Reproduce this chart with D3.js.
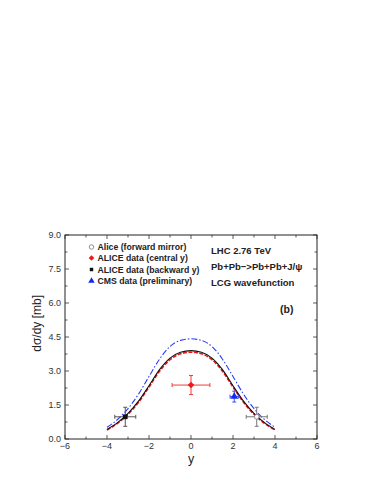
<!DOCTYPE html>
<html>
<head>
<meta charset="utf-8">
<script src="https://cdn.jsdelivr.net/npm/d3@7"></script>
<style>
  body { margin: 0; background: #fff; }
  svg { display: block; font-family: "Liberation Sans", Arial, sans-serif; }
</style>
</head>
<body>
<svg id="chart"></svg>
<script>
// rapidity grid for the model curves
const ys = [-4, -3.5, -3, -2.5, -2, -1.5, -1, -0.5, 0, 0.5, 1, 1.5, 2, 2.5, 3, 3.5, 4];
const lcgSolid = [0.42, 0.72, 1.13, 1.67, 2.35, 3.06, 3.57, 3.83, 3.90, 3.83, 3.57, 3.06, 2.35, 1.67, 1.13, 0.72, 0.42];
const lcgDashed = [0.40, 0.69, 1.09, 1.62, 2.29, 2.99, 3.50, 3.76, 3.83, 3.76, 3.50, 2.99, 2.29, 1.62, 1.09, 0.69, 0.40];
const lcgDashDot = [0.52, 0.86, 1.34, 1.98, 2.76, 3.52, 4.08, 4.35, 4.42, 4.35, 4.08, 3.52, 2.76, 1.98, 1.34, 0.86, 0.52];

// data points: [y, value, xerr, yerr]
const aliceMirror = [[3.13, 0.98, 0.5, 0.42]];
const aliceCentral = [[0, 2.38, 0.9, 0.42]];
const aliceBackward = [[-3.13, 0.98, 0.5, 0.42]];
const cmsData = [[2.06, 1.87, 0.2, 0.24]];

const xTicks = [-6, -4, -2, 0, 2, 4, 6];
const yTicks = [0, 1.5, 3, 4.5, 6, 7.5, 9];

const legendLabels = ["Alice (forward mirror)", "ALICE data (central y)", "ALICE data (backward y)", "CMS data (preliminary)"];
const infoLines = ["LHC 2.76 TeV", "Pb+Pb\u2212>Pb+Pb+J/\u03c8", "LCG wavefunction"];

const width = 383, height = 495;
const m = { left: 65, right: 66, top: 235, bottom: 56 };

const svg = d3.select("#chart").attr("width", width).attr("height", height);

const x = d3.scaleLinear().domain([-6, 6]).range([m.left, width - m.right]);
const y = d3.scaleLinear().domain([0, 9]).range([height - m.bottom, m.top]);

const x0 = x.range()[0], x1 = x.range()[1], y0 = y.range()[0], y1 = y.range()[1];

// ticks (inward, all sides)
const g = svg.append("g").attr("stroke", "#333").attr("stroke-width", 0.8);
d3.range(-6, 6.01, 1).forEach(v => {
  const len = v % 2 === 0 ? 4 : 2.5;
  g.append("line").attr("x1", x(v)).attr("x2", x(v)).attr("y1", y0).attr("y2", y0 - len);
  g.append("line").attr("x1", x(v)).attr("x2", x(v)).attr("y1", y1).attr("y2", y1 + len);
});
d3.range(0, 9.01, 0.75).forEach((v, i) => {
  const len = i % 2 === 0 ? 4 : 2.5;
  g.append("line").attr("y1", y(v)).attr("y2", y(v)).attr("x1", x0).attr("x2", x0 + len);
  g.append("line").attr("y1", y(v)).attr("y2", y(v)).attr("x1", x1).attr("x2", x1 - len);
});

svg.append("rect")
  .attr("x", x0).attr("y", y1).attr("width", x1 - x0).attr("height", y0 - y1)
  .attr("fill", "none").attr("stroke", "#222").attr("stroke-width", 1);

// tick labels
svg.append("g").selectAll("text").data(xTicks).join("text")
  .attr("x", d => x(d)).attr("y", y0 + 10)
  .attr("text-anchor", "middle").attr("font-size", 9).attr("fill", "#333")
  .text(d => d < 0 ? "\u2212" + Math.abs(d) : d);

svg.append("g").selectAll("text").data(yTicks).join("text")
  .attr("x", x0 - 4).attr("y", d => y(d) + 3)
  .attr("text-anchor", "end").attr("font-size", 9).attr("fill", "#333")
  .text(d => d.toFixed(1));

svg.append("text")
  .attr("x", x(0)).attr("y", y0 + 24)
  .attr("text-anchor", "middle").attr("font-size", 12.5).attr("fill", "#222")
  .text("y");

svg.append("text")
  .attr("transform", `translate(${x0 - 24},${y(5.1)}) rotate(-90)`)
  .attr("text-anchor", "middle").attr("font-size", 12).attr("fill", "#222")
  .text("d\u03c3/dy [mb]");

// curves
const line = vals => d3.line()
  .x((d, i) => x(ys[i]))
  .y(d => y(d))
  .curve(d3.curveMonotoneX)(vals);

svg.append("path").attr("d", line(lcgDashDot)).attr("fill", "none")
  .attr("stroke", "#2a3cf0").attr("stroke-width", 1.1).attr("stroke-dasharray", "6,2,1.5,2");
svg.append("path").attr("d", line(lcgDashed)).attr("fill", "none")
  .attr("stroke", "#e8141c").attr("stroke-width", 1.6).attr("stroke-dasharray", "4,1.5");
svg.append("path").attr("d", line(lcgSolid)).attr("fill", "none")
  .attr("stroke", "#111").attr("stroke-width", 1.1);

// error bars
function errorBars(data, color) {
  const eg = svg.append("g").attr("stroke", color).attr("stroke-width", 1);
  data.forEach(([cx, cy, ex, ey]) => {
    eg.append("line").attr("x1", x(cx - ex)).attr("x2", x(cx + ex)).attr("y1", y(cy)).attr("y2", y(cy));
    eg.append("line").attr("x1", x(cx)).attr("x2", x(cx)).attr("y1", y(cy - ey)).attr("y2", y(cy + ey));
    [cx - ex, cx + ex].forEach(v => eg.append("line")
      .attr("x1", x(v)).attr("x2", x(v)).attr("y1", y(cy) - 2).attr("y2", y(cy) + 2));
    [cy - ey, cy + ey].forEach(v => eg.append("line")
      .attr("x1", x(cx) - 2).attr("x2", x(cx) + 2).attr("y1", y(v)).attr("y2", y(v)));
  });
}
errorBars(aliceMirror, "#777");
errorBars(aliceBackward, "#555");
errorBars(aliceCentral, "#f03a3a");
errorBars(cmsData, "#3a50f0");

const sym = (type, size) => d3.symbol().type(type).size(size)();

svg.selectAll(".mirror").data(aliceMirror).join("path")
  .attr("transform", d => `translate(${x(d[0])},${y(d[1])})`)
  .attr("d", sym(d3.symbolCircle, 18)).attr("fill", "#fff").attr("stroke", "#777").attr("stroke-width", 0.8);
svg.selectAll(".back").data(aliceBackward).join("path")
  .attr("transform", d => `translate(${x(d[0])},${y(d[1])})`)
  .attr("d", sym(d3.symbolSquare, 22)).attr("fill", "#111");
svg.selectAll(".central").data(aliceCentral).join("path")
  .attr("transform", d => `translate(${x(d[0])},${y(d[1])}) rotate(45)`)
  .attr("d", sym(d3.symbolSquare, 22)).attr("fill", "#f01818");
svg.selectAll(".cms").data(cmsData).join("path")
  .attr("transform", d => `translate(${x(d[0])},${y(d[1])})`)
  .attr("d", sym(d3.symbolTriangle, 26)).attr("fill", "#1428f0");

// legend
const legendY = [250, 261, 272.5, 284];
const legendSyms = [
  { t: d3.symbolCircle, s: 16, fill: "#fff", stroke: "#666", r: 0 },
  { t: d3.symbolSquare, s: 16, fill: "#f01818", stroke: "none", r: 45 },
  { t: d3.symbolSquare, s: 12, fill: "#111", stroke: "none", r: 0 },
  { t: d3.symbolTriangle, s: 18, fill: "#1428f0", stroke: "none", r: 0 }
];
legendLabels.forEach((lab, i) => {
  svg.append("path").attr("transform", `translate(91.5,${legendY[i] - 3}) rotate(${legendSyms[i].r})`)
    .attr("d", sym(legendSyms[i].t, legendSyms[i].s))
    .attr("fill", legendSyms[i].fill).attr("stroke", legendSyms[i].stroke).attr("stroke-width", 0.7);
  svg.append("text").attr("x", 97.5).attr("y", legendY[i])
    .attr("font-size", 8.7).attr("font-weight", "bold").attr("fill", "#222").text(lab);
});

const infoY = [254, 270, 286];
infoLines.forEach((t, i) => {
  svg.append("text").attr("x", 211).attr("y", infoY[i])
    .attr("font-size", 9.5).attr("font-weight", "bold").attr("fill", "#222").text(t);
});

svg.append("text").attr("x", 280).attr("y", 313)
  .attr("font-size", 10.5).attr("font-weight", "bold").attr("fill", "#222").text("(b)");
</script>
</body>
</html>
